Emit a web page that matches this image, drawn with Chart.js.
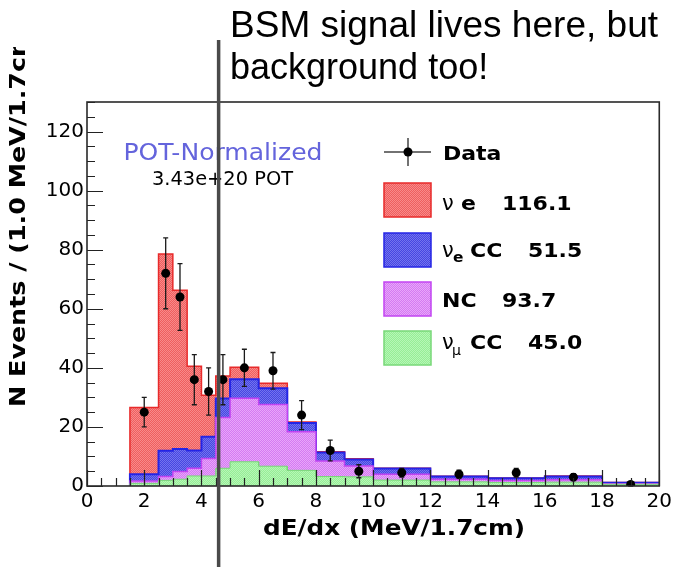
<!DOCTYPE html>
<html>
<head>
<meta charset="utf-8">
<script src="https://cdn.jsdelivr.net/npm/chart.js@4.4.1/dist/chart.umd.min.js"></script>
<style>
  html, body { margin: 0; padding: 0; background: #fff; }
  #wrap { width: 676px; height: 567px; }
</style>
</head>
<body>
<div id="wrap"><canvas id="c" width="676" height="567"></canvas></div>
<script>
// Histogram bin edges in dE/dx (MeV/1.7cm)
const binEdges = [1.5, 2.5, 3, 3.5, 4, 4.5, 5, 6, 7, 8, 9, 10, 12, 14, 16, 18, 20];

// Expected events per bin (per 1.0 MeV/1.7cm), one array per component, stack order bottom -> top
const numuCC    = [0.9, 1.9, 2.3, 3.4, 3.4, 6.0, 8.2, 6.7, 5.3, 3.2, 3.1, 2.0, 1.4, 1.2, 1.3, 0.6];
const ncEvents  = [0.8, 1.3, 2.6, 2.6, 5.9, 17.2, 21.5, 20.9, 13.1, 5.3, 3.7, 2.0, 0.9, 0.7, 0.8, 0.2];
const nueCC     = [2.3, 8.7, 7.6, 6.0, 7.4, 6.4, 6.4, 5.5, 2.9, 2.8, 2.2, 1.9, 0.9, 0.7, 1.1, 0.3];
const nuElastic = [22.6, 66.6, 53.8, 28.5, 14.0, 7.6, 4.1, 1.7, 0.4, 0.3, 0.2, 0.1, 0.1, 0.1, 0.2, 0.1];

// Observed data with statistical errors
const dataCenters = [2, 2.75, 3.25, 3.75, 4.25, 4.75, 5.5, 6.5, 7.5, 8.5, 9.5, 11, 13, 15, 17, 19];
const dataValues  = [25, 72, 64, 36, 32, 36, 40, 39, 24, 12, 5, 4.5, 4, 4.5, 3, 0.5];
const dataErrors  = [5, 12, 11.3, 8.5, 8, 8.5, 6.3, 6.2, 4.9, 3.5, 2.2, 1.5, 1.4, 1.5, 1.2, 0.5];

// Legend entries (integrated event counts)
const legendTotals = ['116.1', '51.5', '93.7', '45.0'];

// Axis ranges and tick steps
const xRange = [0, 20], yRange = [0, 130];
const xMajor = 2, xMinor = 0.5, yMajor = 20, yMinor = 5;

// Position of the highlighted cut line
const cutValue = 4.6;

function checker(c1, c2) {
  const cv = document.createElement('canvas');
  cv.width = 2; cv.height = 2;
  const g = cv.getContext('2d');
  g.fillStyle = c1; g.fillRect(0, 0, 2, 2);
  g.fillStyle = c2; g.fillRect(0, 0, 1, 1); g.fillRect(1, 1, 1, 1);
  return g.createPattern(cv, 'repeat');
}

const ctx = document.getElementById('c').getContext('2d');
const fills = {
  red:  checker('#ef5e5e', '#f88a8a'),
  blue: checker('#4646e2', '#7474ee'),
  mag:  checker('#d47af2', '#e8a6fa'),
  grn:  checker('#96ee96', '#b6f6b6')
};
const lines = { red: '#e82a2a', blue: '#2424e6', mag: '#c244f2', grn: '#78d878' };

// cumulative stack
function addArr(a, b) { return a.map((v, i) => v + b[i]); }
const stackGreen = numuCC.slice();
const stackMag = addArr(stackGreen, ncEvents);
const stackBlue = addArr(stackMag, nueCC);
const stackRed = addArr(stackBlue, nuElastic);

function histPoints(vals) {
  const pts = [{ x: binEdges[0], y: 0 }];
  vals.forEach((v, i) => { pts.push({ x: binEdges[i], y: v }, { x: binEdges[i + 1], y: v }); });
  pts.push({ x: binEdges[binEdges.length - 1], y: 0 });
  return pts;
}
function histDataset(vals, key, w) {
  return {
    type: 'line', data: histPoints(vals), parsing: false,
    backgroundColor: fills[key], borderColor: lines[key], borderWidth: w,
    fill: 'origin', pointRadius: 0, tension: 0, showLine: true
  };
}

function fitText(c, text, x, y, font, width, align) {
  c.save();
  c.font = font;
  const w = c.measureText(text).width;
  const s = width ? width / w : 1;
  c.translate(x, y);
  c.scale(s, 1);
  c.textAlign = align || 'left';
  c.textBaseline = 'alphabetic';
  c.fillText(text, 0, 0);
  c.restore();
}
function boldText(c, text, x, y, size) {
  c.save();
  c.font = 'bold ' + size + 'px "DejaVu Sans"';
  c.translate(x, y); c.scale(1.1, 1);
  c.textAlign = 'left'; c.textBaseline = 'alphabetic';
  c.fillText(text, 0, 0);
  c.restore();
}
function plainText(c, text, x, y, size) {
  c.save();
  c.font = size + 'px "DejaVu Sans"';
  c.textAlign = 'left'; c.textBaseline = 'alphabetic';
  c.fillText(text, x, y);
  c.restore();
}

const overlay = {
  id: 'overlay',
  beforeDatasetDraw(chart, args) {
    if (args.index !== 0) return;
    const xs = chart.scales.x, ys = chart.scales.y, c = chart.ctx;
    c.save();
    c.strokeStyle = '#1a1a1a'; c.lineWidth = 1.3;
    dataCenters.forEach((xv, i) => {
      const px = xs.getPixelForValue(xv);
      const top = ys.getPixelForValue(dataValues[i] + dataErrors[i]);
      const bot = ys.getPixelForValue(Math.max(0, dataValues[i] - dataErrors[i]));
      c.beginPath();
      c.moveTo(px, top); c.lineTo(px, bot);
      c.moveTo(px - 2.5, top); c.lineTo(px + 2.5, top);
      c.moveTo(px - 2.5, bot); c.lineTo(px + 2.5, bot);
      c.stroke();
    });
    c.restore();
  },
  afterDatasetsDraw(chart) {
    const xs = chart.scales.x, ys = chart.scales.y, c = chart.ctx, a = chart.chartArea;
    c.save();
    c.strokeStyle = '#222'; c.lineWidth = 1.2;
    c.beginPath();
    for (let v = yRange[0]; v <= yRange[1] + 1e-9; v += yMinor) {
      const py = Math.round(ys.getPixelForValue(v)) + 0.5;
      const len = (v % yMajor === 0) ? 16 : 8;
      c.moveTo(a.left, py); c.lineTo(a.left + len, py);
    }
    for (let v = xRange[0]; v <= xRange[1] + 1e-9; v += xMinor) {
      const px = Math.round(xs.getPixelForValue(v)) + 0.5;
      const len = (Math.abs(v % xMajor) < 1e-9) ? 16 : 8;
      c.moveTo(px, a.bottom); c.lineTo(px, a.bottom - len);
    }
    c.stroke();
    // frame
    c.strokeStyle = '#2a2a2a'; c.lineWidth = 1.6;
    c.strokeRect(a.left, a.top, a.right - a.left, a.bottom - a.top);
    c.restore();
  },
  afterDraw(chart) {
    const xs = chart.scales.x, c = chart.ctx;
    c.save();
    c.fillStyle = '#000';

    // axis titles
    fitText(c, 'dE/dx (MeV/1.7cm)', 263, 535, 'bold 21px "DejaVu Sans"', 262, 'left');
    c.save();
    c.beginPath(); c.rect(0, 47, 70, 520); c.clip();
    c.translate(25, 407); c.rotate(-Math.PI / 2);
    fitText(c, 'N Events / (1.0 MeV/1.7cm)', 0, 0, 'bold 20.5px "DejaVu Sans"', 388, 'left');
    c.restore();

    // normalization labels
    c.fillStyle = '#6464dc';
    fitText(c, 'POT-Normalized', 223, 160, '23px "DejaVu Sans"', 199, 'center');
    c.fillStyle = '#000';
    fitText(c, '3.43e+20 POT', 222.5, 185, '19.5px "DejaVu Sans"', 141, 'center');

    // legend
    c.strokeStyle = '#444'; c.lineWidth = 1.5;
    c.beginPath();
    c.moveTo(384, 152); c.lineTo(431, 152);
    c.moveTo(408, 138); c.lineTo(408, 166);
    c.stroke();
    c.beginPath(); c.arc(408, 152, 4.5, 0, Math.PI * 2); c.fill();
    boldText(c, 'Data', 443, 159.5, 20);

    const rows = [
      { key: 'red',  top: 183, base: 210 },
      { key: 'blue', top: 233, base: 256.5 },
      { key: 'mag',  top: 282, base: 306.5 },
      { key: 'grn',  top: 331, base: 349 }
    ];
    rows.forEach(r => {
      c.fillStyle = fills[r.key];
      c.fillRect(384, r.top, 47, 34);
      c.strokeStyle = lines[r.key]; c.lineWidth = 1.5;
      c.strokeRect(384, r.top, 47, 34);
    });
    c.fillStyle = '#000';
    // nu e
    plainText(c, 'ν', 442, rows[0].base, 21);
    boldText(c, 'e', 461, rows[0].base, 20);
    boldText(c, legendTotals[0], 502, rows[0].base, 20);
    // nu_e CC
    plainText(c, 'ν', 442, rows[1].base, 21);
    boldText(c, 'e', 453, rows[1].base + 5.5, 14);
    boldText(c, 'CC', 470, rows[1].base, 20);
    boldText(c, legendTotals[1], 528, rows[1].base, 20);
    // NC
    boldText(c, 'NC', 442, rows[2].base, 20);
    boldText(c, legendTotals[2], 502, rows[2].base, 20);
    // nu_mu CC
    plainText(c, 'ν', 442, rows[3].base, 21);
    plainText(c, 'μ', 452, rows[3].base + 5.5, 14);
    boldText(c, 'CC', 470, rows[3].base, 20);
    boldText(c, legendTotals[3], 528, rows[3].base, 20);

    // annotation
    fitText(c, 'BSM signal lives here, but', 230, 37, '36px "Liberation Sans"', 428, 'left');
    fitText(c, 'background too!', 230, 79, '36px "Liberation Sans"', null, 'left');

    const px = xs.getPixelForValue(cutValue);
    c.strokeStyle = '#4a4a4a'; c.lineWidth = 3.5;
    c.beginPath(); c.moveTo(px, 40); c.lineTo(px, 567); c.stroke();
    c.restore();
  }
};

new Chart(ctx, {
  type: 'line',
  data: {
    datasets: [
      {
        type: 'line', data: dataCenters.map((x, i) => ({ x, y: dataValues[i] })), parsing: false,
        showLine: false, pointRadius: 4.5, pointHoverRadius: 4.5,
        pointBackgroundColor: '#000', pointBorderColor: '#000', pointBorderWidth: 0
      },
      histDataset(stackGreen, 'grn', 1),
      histDataset(stackMag, 'mag', 1.5),
      histDataset(stackBlue, 'blue', 2),
      histDataset(stackRed, 'red', 1.5)
    ]
  },
  options: {
    responsive: false,
    animation: false,
    events: [],
    layout: { padding: { left: 0, top: 102, right: 16, bottom: 0 } },
    plugins: { legend: { display: false }, tooltip: { enabled: false } },
    scales: {
      x: {
        type: 'linear', min: xRange[0], max: xRange[1],
        grid: { display: false, drawTicks: false },
        border: { display: false },
        afterFit(s) { s.height = 81; },
        ticks: { stepSize: xMajor, includeBounds: false, padding: 4, color: '#000', maxRotation: 0,
                 font: { family: 'DejaVu Sans', size: 20 } }
      },
      y: {
        type: 'linear', min: yRange[0], max: yRange[1],
        grid: { display: false, drawTicks: false },
        border: { display: false },
        afterFit(s) { s.width = 87; },
        ticks: { stepSize: yMajor, includeBounds: false, padding: 3, color: '#000',
                 font: { family: 'DejaVu Sans', size: 20 } }
      }
    }
  },
  plugins: [overlay]
});
</script>
</body>
</html>
